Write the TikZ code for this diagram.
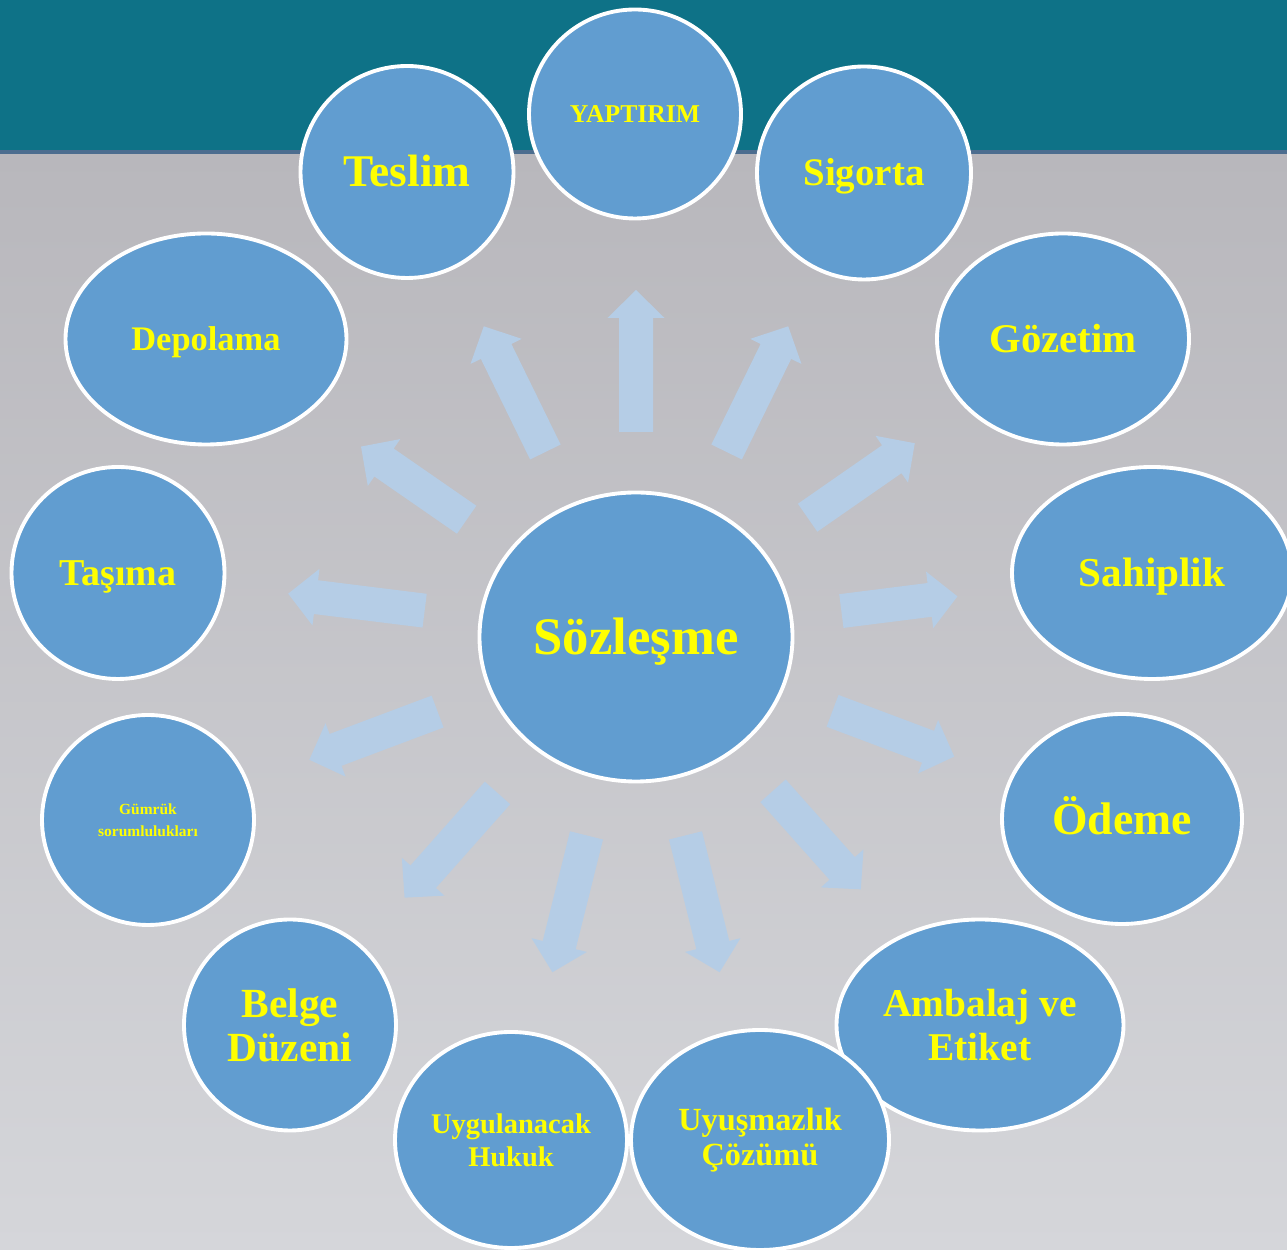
\documentclass[tikz,border=0pt]{standalone}
\usepackage{fontspec}
\setmainfont{Liberation Serif}
\usetikzlibrary{shapes.geometric}

\definecolor{band}{HTML}{0E7287}
\definecolor{bandline}{HTML}{4C6D8F}
\definecolor{bgtop}{HTML}{B8B7BC}
\definecolor{bgbottom}{HTML}{D5D6DA}
\definecolor{bubblefill}{HTML}{619DD0}
\definecolor{flowfill}{HTML}{B5CDE6}
\definecolor{labelyellow}{HTML}{FFFF00}

% bold label text at a given size and line distance
\newcommand{\lbl}[2]{\fontsize{#1}{#2}\selectfont\bfseries}

\begin{document}
\begin{tikzpicture}[
    bubble/.style={ellipse, draw=white, line width=1.1pt, fill=bubblefill,
                   inner sep=0pt, align=center, text=labelyellow},
    oneline/.style={text height=#1, text depth=0pt},
    flow/.style={fill=flowfill, draw=none},
]
\useasboundingbox (0,0) rectangle (12.87,12.5);
\clip (0,0) rectangle (12.87,12.5);

% Arka plan
\shade[top color=bgtop, bottom color=bgbottom] (0,0) rectangle (12.87,10.97);
\fill[band] (0,11.0) rectangle (12.87,12.5);
\fill[bandline] (0,10.96) rectangle (12.87,11.0);

% Merkez
\node[bubble, oneline=9.9pt, minimum width=3.13cm, minimum height=2.89cm, font=\lbl{15}{17}]
    (szl) at (6.36, 6.13) {Sözleşme};

% Oklar: açı / başlangıç yarıçapı / uzunluk
\foreach \ang/\from/\len in {90/2.05/1.42, 116.1/2.06/1.40, 63.9/2.06/1.40,
                             145.3/2.06/1.285, 34.8/2.09/1.305,
                             172.9/2.13/1.375, 7.2/2.07/1.17,
                             200.6/2.12/1.37, -20.6/2.10/1.30,
                             228.4/2.086/1.40, 256/2.045/1.41,
                             -76/2.045/1.41, -48.3/2.06/1.32}
  \fill[flow, shift={(szl.center)}, rotate=\ang]
    (\from,-0.17) -- ({\from+\len-0.28},-0.17) -- ({\from+\len-0.28},-0.285)
    -- ({\from+\len},0) -- ({\from+\len-0.28},0.285) -- ({\from+\len-0.28},0.17)
    -- (\from,0.17) -- cycle;

% Üst sıra
\node[bubble, oneline=4.8pt, minimum width=2.12cm, minimum height=2.09cm, font=\lbl{7.3}{8}]
    (yaptirim) at (6.35, 11.36) {YAPTIRIM};
\node[bubble, oneline=8.5pt, minimum width=2.13cm, minimum height=2.12cm, font=\lbl{12.9}{14}]
    (teslim) at (4.07, 10.78) {Teslim};
\node[bubble, oneline=7.3pt, minimum width=2.14cm, minimum height=2.13cm, font=\lbl{11.1}{13}]
    (sigorta) at (8.64, 10.77) {Sigorta};

% Sol taraf
\node[bubble, oneline=6.5pt, minimum width=2.81cm, minimum height=2.11cm, font=\lbl{9.8}{11}]
    (depolama) at (2.06, 9.11) {Depolama};
\node[bubble, oneline=7.1pt, minimum width=2.13cm, minimum height=2.12cm, font=\lbl{10.8}{12}]
    (tasima) at (1.18, 6.77) {Taşıma};
\node[bubble, minimum width=2.12cm, minimum height=2.10cm, font=\lbl{4.4}{6.3}]
    (gumruk) at (1.48, 4.30) {Gümrük\\sorumlulukları};
\node[bubble, minimum width=2.12cm, minimum height=2.11cm, font=\lbl{11.8}{12.5}]
    (belge) at (2.90, 2.25) {Belge\\Düzeni};

% Sağ taraf
\node[bubble, oneline=7.7pt, minimum width=2.52cm, minimum height=2.11cm, font=\lbl{11.6}{13}]
    (gozetim) at (10.63, 9.11) {Gözetim};
\node[bubble, oneline=7.7pt, minimum width=2.80cm, minimum height=2.12cm, font=\lbl{11.7}{13}]
    (sahiplik) at (11.52, 6.77) {Sahiplik};
\node[bubble, oneline=8.6pt, minimum width=2.40cm, minimum height=2.10cm, font=\lbl{13}{15}]
    (odeme) at (11.22, 4.31) {Ödeme};
\node[bubble, minimum width=2.87cm, minimum height=2.11cm, font=\lbl{11.2}{12.5}]
    (ambalaj) at (9.80, 2.25) {Ambalaj ve\\Etiket};

% Alt sıra
\node[bubble, minimum width=2.32cm, minimum height=2.16cm, font=\lbl{8.1}{9.4}]
    (hukuk) at (5.11, 1.10) {Uygulanacak\\Hukuk};
\node[bubble, minimum width=2.58cm, minimum height=2.20cm, font=\lbl{9.2}{10}]
    (cozum) at (7.60, 1.10) {Uyuşmazlık\\Çözümü};

\end{tikzpicture}
\end{document}
